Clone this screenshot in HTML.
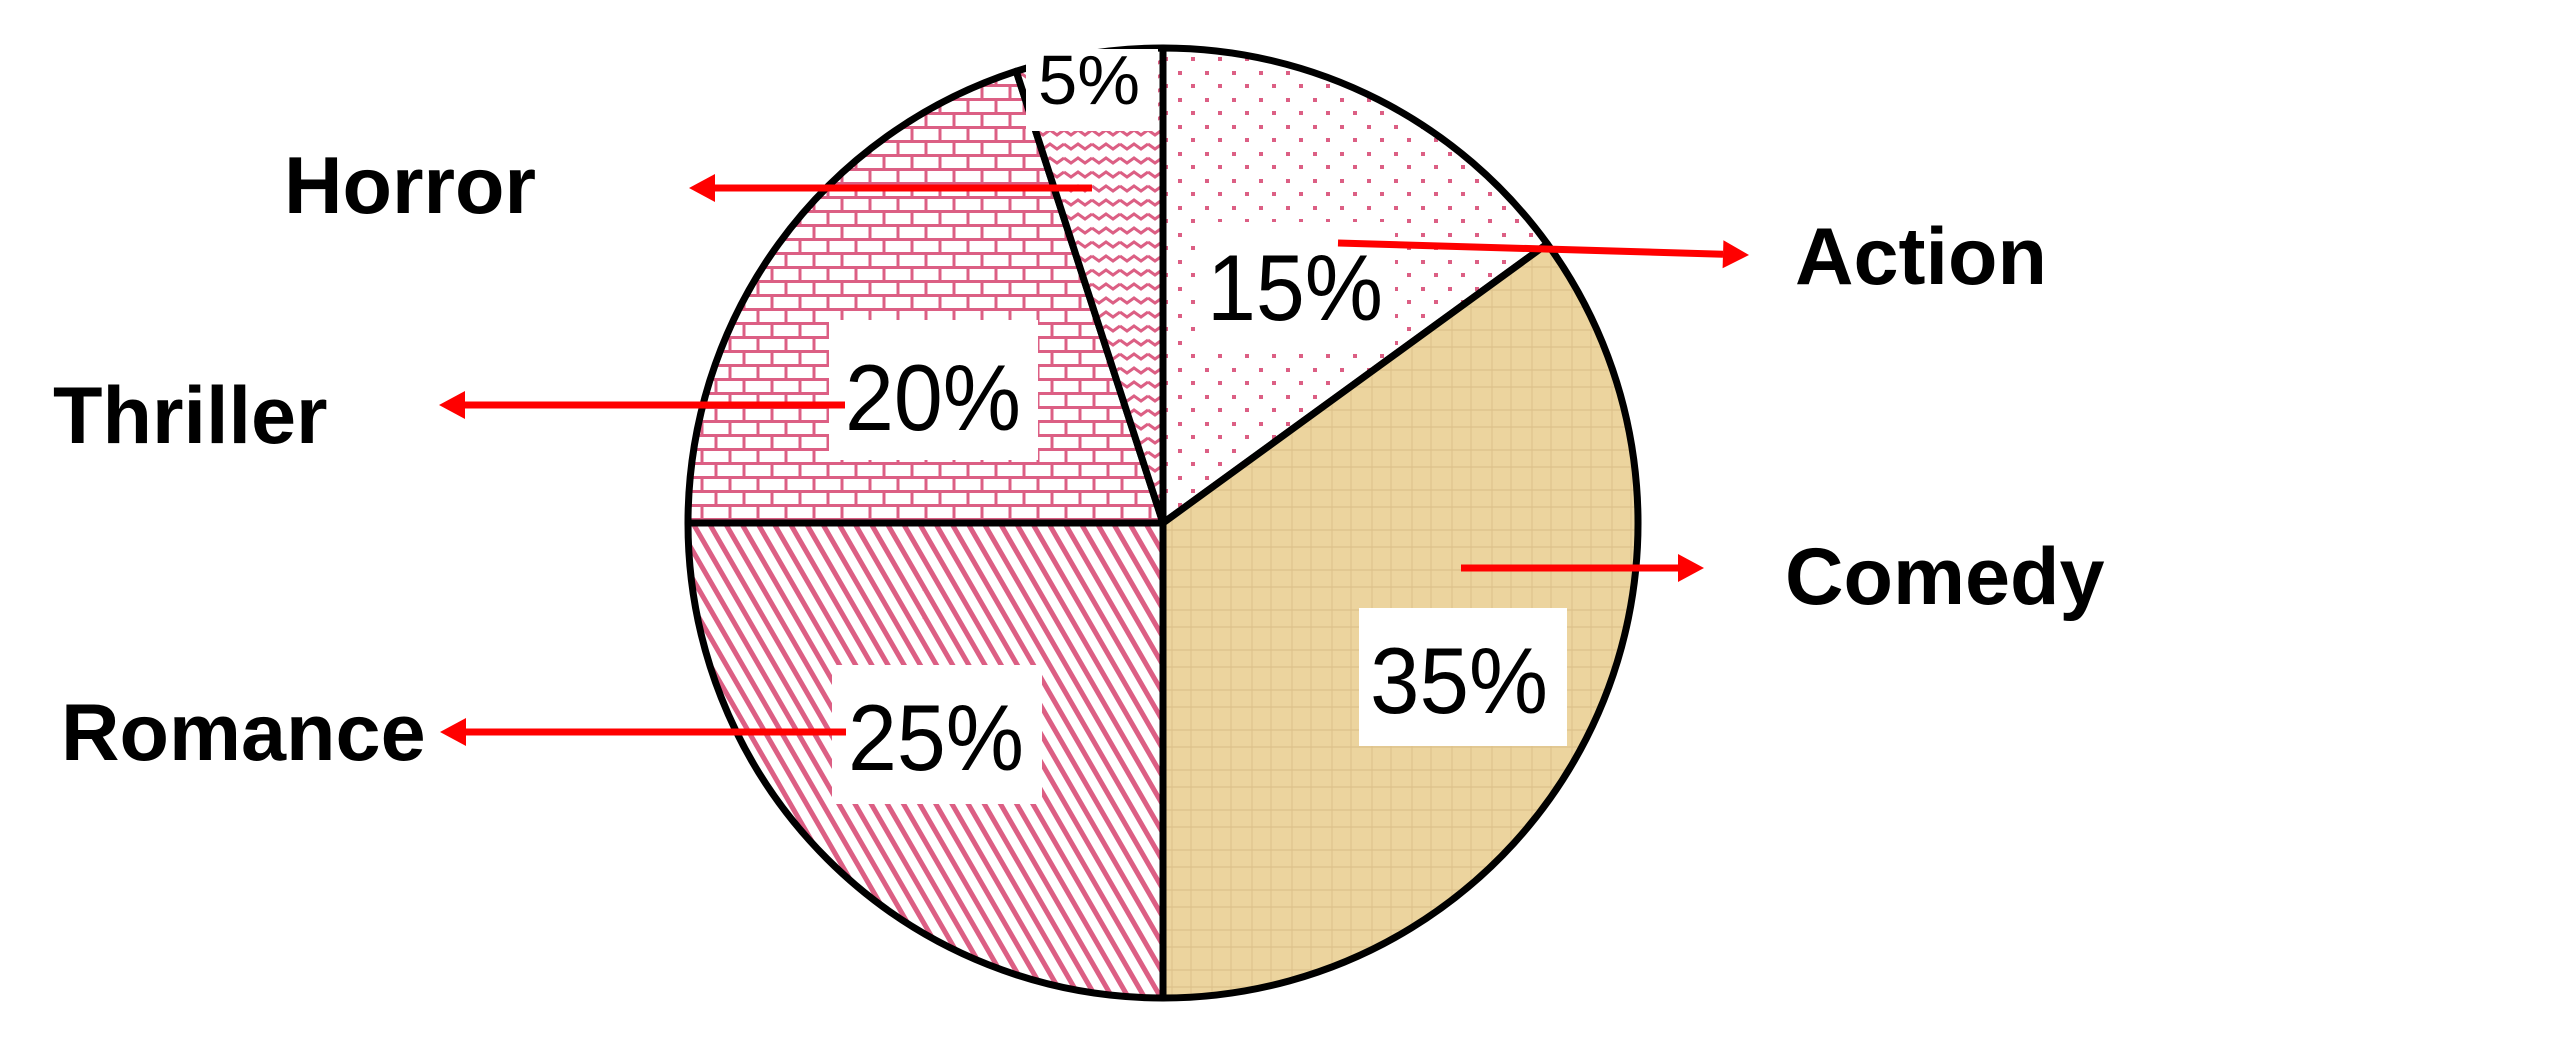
<!DOCTYPE html>
<html><head><meta charset="utf-8"><style>
html,body{margin:0;padding:0;background:#fff;}
svg{display:block;}
</style></head><body>
<svg id="chart" width="2573" height="1047" viewBox="0 0 2573 1047" xmlns="http://www.w3.org/2000/svg">
<defs>
<pattern id="p-dots" patternUnits="userSpaceOnUse" width="27" height="27"><rect width="27" height="27" fill="#fff"/><rect x="3" y="3" width="4" height="4" fill="#dc5f84"/><rect x="17" y="17" width="4" height="4" fill="#dc5f84"/></pattern>
<pattern id="p-tan" patternUnits="userSpaceOnUse" width="40" height="40"><rect width="40" height="40" fill="#ecd49e"/><path d="M0 10H40M0 27H40" stroke="#dcc08a" stroke-width="2" opacity="0.6"/><path d="M12 0V40M31 0V40" stroke="#dcc08a" stroke-width="2" opacity="0.5"/></pattern>
<pattern id="p-stripe" patternUnits="userSpaceOnUse" width="14" height="14" patternTransform="rotate(-30)"><rect width="14" height="14" fill="#fff"/><rect width="5" height="14" fill="#dc5f84"/></pattern>
<pattern id="p-brick" patternUnits="userSpaceOnUse" width="28" height="28"><rect width="28" height="28" fill="#fff"/><path d="M0 1.5H28M0 15.5H28M2 0V14M16 14V28" stroke="#dc5f84" stroke-width="3"/></pattern>
<pattern id="p-zig" patternUnits="userSpaceOnUse" width="28" height="14"><rect width="28" height="14" fill="#fff"/><path d="M0 4L7 9L14 4L21 9L28 4" stroke="#dc5f84" stroke-width="3" fill="none"/></pattern>
</defs>
<g id="slices"></g>
<g id="labels"></g>
</svg>
<script>
const categories = ["Action","Comedy","Romance","Thriller","Horror"];
const values = [15,35,25,20,5];
const pctLabels = ["15%","35%","25%","20%","5%"];
const fills = ["url(#p-dots)","url(#p-tan)","url(#p-stripe)","url(#p-brick)","url(#p-zig)"];
const NS = "http://www.w3.org/2000/svg";
const cx = 1163, cy = 523, r = 475;
const total = values.reduce((a,b)=>a+b,0);
function pt(frac, rad){ const a = frac*2*Math.PI; return [cx + rad*Math.sin(a), cy - rad*Math.cos(a)]; }
const sg = document.getElementById('slices');
let acc = 0;
values.forEach((v,i)=>{
  const f0 = acc/total, f1 = (acc+v)/total; acc += v;
  const p0 = pt(f0,r), p1 = pt(f1,r);
  const large = (f1-f0) > 0.5 ? 1 : 0;
  const d = `M${cx},${cy} L${p0[0]},${p0[1]} A${r},${r} 0 ${large} 1 ${p1[0]},${p1[1]} Z`;
  const path = document.createElementNS(NS,'path');
  path.setAttribute('d', d);
  path.setAttribute('fill', fills[i]);
  path.setAttribute('stroke', '#000');
  path.setAttribute('stroke-width', '7');
  path.setAttribute('stroke-linejoin', 'round');
  
  
  sg.appendChild(path);
});
const lg = document.getElementById('labels');
const boxes = [
  {x:1195,y:222,w:200,h:125,tx:1207,ty:320,fs:94,tl:176},
  {x:1359,y:608,w:208,h:138,tx:1370,ty:713,fs:94,tl:178},
  {x:832,y:665,w:210,h:139,tx:848,ty:770,fs:94,tl:176},
  {x:829,y:320,w:209,h:140,tx:845,ty:430,fs:94,tl:176},
  {x:1026,y:49,w:132,h:82,tx:1038,ty:104,fs:70,tl:102}
];
const names = [
  {x:1795,y:284,ax1:1338,ay1:243,ax2:1749,ay2:255},
  {x:1785,y:604,ax1:1461,ay1:568,ax2:1704,ay2:568},
  {x:61,y:760,ax1:846,ay1:732,ax2:440,ay2:732},
  {x:53,y:443,ax1:845,ay1:405,ax2:439,ay2:405},
  {x:284,y:213,ax1:1092,ay1:188,ax2:689,ay2:188}
];
categories.forEach((c,i)=>{
  const b = boxes[i];
  const rect = document.createElementNS(NS,'rect');
  rect.setAttribute('x',b.x); rect.setAttribute('y',b.y); rect.setAttribute('width',b.w); rect.setAttribute('height',b.h); rect.setAttribute('fill','#fff');
  
  
  lg.appendChild(rect);
  const t = document.createElementNS(NS,'text');
  t.setAttribute('x',b.tx); t.setAttribute('y',b.ty);
  t.setAttribute('font-family','"Liberation Sans", sans-serif');
  t.setAttribute('font-size',b.fs);
  t.setAttribute('textLength',b.tl); t.setAttribute('lengthAdjust','spacingAndGlyphs');
  t.textContent = pctLabels[i];
  
  
  lg.appendChild(t);
});
categories.forEach((c,i)=>{
  const n = names[i];
  const dx = n.ax2-n.ax1, dy = n.ay2-n.ay1, len = Math.hypot(dx,dy), ux = dx/len, uy = dy/len;
  const bx = n.ax2 - ux*26, by = n.ay2 - uy*26;
  const line = document.createElementNS(NS,'line');
  line.setAttribute('x1',n.ax1); line.setAttribute('y1',n.ay1); line.setAttribute('x2',bx); line.setAttribute('y2',by);
  line.setAttribute('stroke','#ff0000'); line.setAttribute('stroke-width','7');
  
  
  lg.appendChild(line);
  const head = document.createElementNS(NS,'polygon');
  head.setAttribute('points', `${n.ax2},${n.ay2} ${bx-uy*14},${by+ux*14} ${bx+uy*14},${by-ux*14}`);
  head.setAttribute('fill','#ff0000');
  
  
  lg.appendChild(head);
  const t = document.createElementNS(NS,'text');
  t.setAttribute('x',n.x); t.setAttribute('y',n.y);
  t.setAttribute('font-family','"Liberation Sans", sans-serif');
  t.setAttribute('font-weight','bold');
  t.setAttribute('font-size','81');
  t.textContent = c;
  
  
  lg.appendChild(t);
});
</script>
</body></html>
